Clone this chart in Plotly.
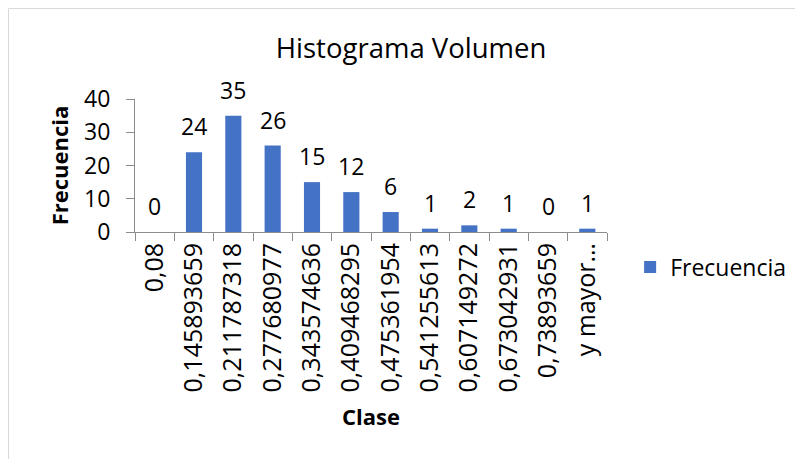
import plotly.graph_objects as go

# Histogram data (Clase / Frecuencia)
clases = [
    "0,08",
    "0,145893659",
    "0,211787318",
    "0,277680977",
    "0,343574636",
    "0,409468295",
    "0,475361954",
    "0,541255613",
    "0,607149272",
    "0,673042931",
    "0,73893659",
    "y mayor…",
]
frecuencias = [0, 24, 35, 26, 15, 12, 6, 1, 2, 1, 0, 1]

y_ticks = [0, 10, 20, 30, 40]

FONT = "Open Sans"
BAR_COLOR = "#4472C4"
AXIS_COLOR = "#8C8C8C"
BORDER_COLOR = "#D9D9D9"

# the page body adds an 8px margin, so the figure is a bit smaller than the window
W, H = 795, 451

fig = go.Figure()

fig.add_trace(
    go.Bar(
        x=clases,
        y=frecuencias,
        name="Frecuencia",
        marker=dict(color=BAR_COLOR, line=dict(width=0)),
    )
)

# Data labels above each bar
for clase, valor in zip(clases, frecuencias):
    fig.add_annotation(
        x=clase,
        y=valor,
        text=str(valor),
        showarrow=False,
        yanchor="bottom",
        yshift=8,
        font=dict(family=FONT, size=23, color="black"),
    )

# Chart area border: only the top and left edges are in view
fig.add_shape(
    type="line", xref="paper", yref="paper",
    x0=-0.268, y0=1.68, x1=1.5, y1=1.68,
    line=dict(color=BORDER_COLOR, width=1), layer="below",
)
fig.add_shape(
    type="line", xref="paper", yref="paper",
    x0=-0.268, y0=-2.0, x1=-0.268, y1=1.68,
    line=dict(color=BORDER_COLOR, width=1), layer="below",
)

fig.update_xaxes(
    type="category",
    categoryorder="array",
    categoryarray=clases,
    automargin=False,
    tickangle=-90,
    ticks="outside",
    tickson="boundaries",
    ticklen=8,
    tickcolor=AXIS_COLOR,
    ticklabelstandoff=0,
    showline=True,
    linecolor=AXIS_COLOR,
    showgrid=False,
    tickfont=dict(family=FONT, size=25, color="black"),
    title=dict(text="<b>Clase</b>", font=dict(family=FONT, size=22, color="black"), standoff=18),
)

fig.update_yaxes(
    range=[0, 40],
    tickvals=y_ticks,
    automargin=False,
    ticks="outside",
    ticklen=8,
    tickcolor=AXIS_COLOR,
    ticklabelstandoff=11,
    showline=True,
    linecolor=AXIS_COLOR,
    showgrid=False,
    zeroline=False,
    tickfont=dict(family=FONT, size=23, color="black"),
    title=dict(text="<b>Frecuencia</b>", font=dict(family=FONT, size=22, color="black"), standoff=9),
)

fig.update_layout(
    width=W,
    height=H,
    margin=dict(l=127, r=196, t=91, b=227),
    paper_bgcolor="white",
    plot_bgcolor="white",
    bargap=0.59,
    title=dict(
        text="Histograma Volumen",
        font=dict(family=FONT, size=27.5, color="black"),
        x=0.507,
        xref="container",
        xanchor="center",
        y=1 - 40 / H,
        yref="container",
        yanchor="middle",
    ),
    showlegend=True,
    legend=dict(
        x=1.049,
        xanchor="left",
        y=-0.263,
        yanchor="middle",
        font=dict(family=FONT, size=23, color="black"),
        bgcolor="rgba(0,0,0,0)",
    ),
)

fig.write_html("out.html")
